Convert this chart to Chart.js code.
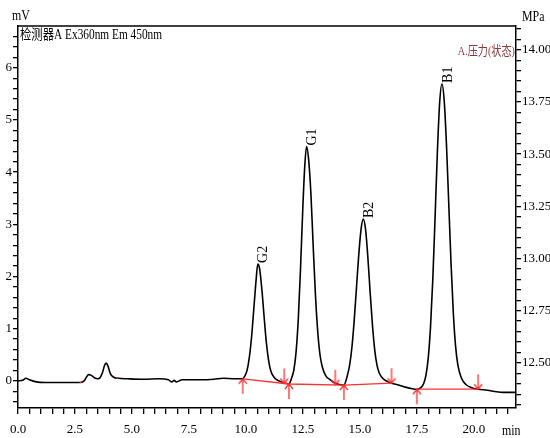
<!DOCTYPE html>
<html lang="zh">
<head>
  <meta charset="UTF-8">
  <title>检测器A 色谱图</title>
  <script src="https://cdn.jsdelivr.net/npm/chart.js"></script>
  <style>
    body { margin: 0; background: #fff; }
    canvas { display: block; }
  </style>
</head>
<body>
  <canvas id="chromChart" width="550" height="438"></canvas>

  <script>
    // 色谱数据 (min, mV)
    const traceTime = [0.0, 0.2, 0.35, 0.5, 0.8, 1.2, 1.8, 2.4, 2.75, 2.9, 3.0, 3.1, 3.2, 3.35, 3.5, 3.6, 3.7, 3.8, 3.87, 3.95, 4.05, 4.2, 4.4, 4.8, 5.5, 6.2, 6.6, 6.75, 6.85, 6.95, 7.2, 8.0, 8.6, 9.0, 9.5,
      9.86, 9.95, 10.05, 10.15, 10.25, 10.35, 10.45, 10.52, 10.6, 10.7, 10.8, 10.9, 11.0, 11.1, 11.25, 11.45, 11.7, 11.89,
      12.0, 12.1, 12.2, 12.3, 12.4, 12.5, 12.58, 12.66, 12.75, 12.85, 12.95, 13.05, 13.15, 13.25, 13.35, 13.5, 13.7, 13.9, 14.1, 14.3,
      14.45, 14.55, 14.65, 14.75, 14.85, 14.95, 15.05, 15.15, 15.25, 15.35, 15.45, 15.55, 15.65, 15.75, 15.85, 16.0, 16.2, 16.39, 16.7, 17.0, 17.3, 17.5,
      17.7, 17.8, 17.9, 18.0, 18.1, 18.2, 18.3, 18.4, 18.5, 18.6, 18.7, 18.8, 18.9, 19.0, 19.1, 19.2, 19.3, 19.45, 19.65, 19.9, 20.19, 20.6, 21.0, 21.3, 21.85];
    const traceSignal = [0.00, 0.01, 0.05, 0.02, -0.02, -0.03, -0.03, -0.03, -0.03, 0.0, 0.07, 0.12, 0.11, 0.06, 0.04, 0.06, 0.15, 0.3, 0.34, 0.28, 0.14, 0.07, 0.05, 0.04, 0.03, 0.04, 0.02, -0.02, 0.01, -0.02, 0.02, 0.02, 0.03, 0.05, 0.04,
      0.04, 0.09, 0.2, 0.45, 0.85, 1.4, 1.95, 2.24, 2.15, 1.75, 1.22, 0.72, 0.38, 0.18, 0.06, 0.0, -0.04, -0.06,
      0.05, 0.2, 0.55, 1.2, 2.2, 3.35, 4.1, 4.49, 4.25, 3.6, 2.6, 1.65, 0.95, 0.5, 0.27, 0.1, 0.02, -0.04, -0.07, -0.08,
      0.1, 0.3, 0.64, 1.15, 1.78, 2.41, 2.9, 3.1, 2.9, 2.37, 1.7, 1.08, 0.6, 0.3, 0.15, 0.05, -0.01, -0.045, -0.08, -0.12, -0.15, -0.16,
      -0.12, -0.05, 0.11, 0.44, 1.04, 1.95, 3.14, 4.38, 5.33, 5.69, 5.37, 4.52, 3.39, 2.25, 1.3, 0.66, 0.3, 0.06, -0.07, -0.13, -0.16, -0.18, -0.21, -0.22, -0.22];

    // 积分基线 (null = 断开)
    const baseTime = [2.7, 2.8, 3.5, 4.3, 4.38, 6.0, 9.86, 11.89, 14.3, 16.39, 17.0, 17.5, 20.19];
    const baseSignal = [-0.03, -0.02, null, 0.06, 0.05, null, 0.04, -0.06, -0.08, -0.045, null, -0.16, -0.16];

    // 峰起点 / 峰终点标记
    const startTime = [9.86, 11.89, 14.3, 17.5];
    const startSignal = [0.04, -0.06, -0.08, -0.16];
    const endTime = [11.68, 13.92, 16.39, 20.19];
    const endSignal = [-0.05, -0.075, -0.045, -0.16];

    // 峰名
    const peakNames = ['G2', 'G1', 'B2', 'B1'];
    const peakTimes = [10.52, 12.66, 15.15, 18.6];
    const peakHeights = [2.24, 4.49, 3.1, 5.69];

    // 坐标轴范围
    const timeMin = 0, timeMax = 21.85;
    const mvMin = -0.52, mvMax = 6.8;
    const mpaMin = 12.28375, mpaMax = 14.11375;

    const RED = '#ff3030';
    const FONT = '"Liberation Serif", "Noto Sans CJK SC", serif';

    const toPoints = (xs, ys) => xs.map((x, i) => ({ x: x, y: ys[i] }));

    function makeArrow(up) {
      const c = document.createElement('canvas');
      c.width = 12; c.height = 32;
      const g = c.getContext('2d');
      g.strokeStyle = RED;
      g.lineWidth = 1.3;
      g.beginPath();
      if (up) {
        g.moveTo(6, 16); g.lineTo(6, 31);
        g.moveTo(2, 21); g.lineTo(6, 16); g.lineTo(10, 21);
      } else {
        g.moveTo(6, 1); g.lineTo(6, 16);
        g.moveTo(2, 11); g.lineTo(6, 16); g.lineTo(10, 11);
      }
      g.stroke();
      return c;
    }

    const nearMultiple = (v, s) => Math.abs(v / s - Math.round(v / s)) < 1e-6;

    // 窄体文字
    function narrowText(ctx, text, x, y, sx) {
      ctx.save();
      ctx.translate(x, y);
      ctx.scale(sx, 1);
      ctx.fillText(text, 0, 0);
      ctx.restore();
    }

    const textPlugin = {
      id: 'textPlugin',
      afterDraw(chart) {
        const ctx = chart.ctx;
        const area = chart.chartArea;
        const x = chart.scales.x, y = chart.scales.y;
        ctx.save();
        // 上边框
        ctx.strokeStyle = '#000';
        ctx.lineWidth = 1.5;
        ctx.beginPath();
        ctx.moveTo(area.left, area.top);
        ctx.lineTo(area.right, area.top);
        ctx.stroke();

        ctx.fillStyle = '#000';
        ctx.textBaseline = 'middle';
        ctx.font = '14px ' + FONT;
        ctx.textAlign = 'left';
        narrowText(ctx, 'mV', 12, 16, 0.85);
        narrowText(ctx, 'MPa', 522, 17, 0.85);
        narrowText(ctx, 'min', 502, 431, 0.85);
        narrowText(ctx, '检测器A Ex360nm Em 450nm', area.left + 2, 35, 0.81);

        ctx.fillStyle = '#8b3a3a';
        ctx.textAlign = 'right';
        ctx.font = '13px ' + FONT;
        narrowText(ctx, 'A.压力(状态)', area.right - 1, 52, 0.78);

        // 峰名 (竖排)
        ctx.fillStyle = '#000';
        ctx.font = '14px ' + FONT;
        ctx.textAlign = 'left';
        peakNames.forEach((name, i) => {
          const px = x.getPixelForValue(peakTimes[i]);
          const py = y.getPixelForValue(peakHeights[i]);
          ctx.save();
          ctx.translate(px + 6, py - 1);
          ctx.rotate(-Math.PI / 2);
          ctx.fillText(name, 0, 0);
          ctx.restore();
        });
        ctx.restore();
      }
    };

    const axisFont = { family: FONT, size: 13 };

    new Chart(document.getElementById('chromChart'), {
      type: 'line',
      data: {
        datasets: [
          {
            data: toPoints(startTime, startSignal),
            showLine: false,
            pointStyle: makeArrow(true),
            pointRadius: 3
          },
          {
            data: toPoints(endTime, endSignal),
            showLine: false,
            pointStyle: makeArrow(false),
            pointRadius: 3
          },
          {
            data: toPoints(baseTime, baseSignal),
            borderColor: RED,
            borderWidth: 1.3,
            pointRadius: 0,
            spanGaps: false
          },
          {
            data: toPoints(traceTime, traceSignal),
            borderColor: '#000',
            borderWidth: 1.6,
            pointRadius: 0,
            cubicInterpolationMode: 'monotone'
          }
        ]
      },
      options: {
        responsive: false,
        animation: false,
        events: [],
        layout: { padding: { top: 26, left: 0, right: 0, bottom: 0 } },
        plugins: {
          legend: { display: false },
          tooltip: { enabled: false }
        },
        scales: {
          x: {
            type: 'linear',
            min: timeMin,
            max: timeMax,
            afterFit: s => { s.height = 30; },
            border: { display: true, color: '#000', width: 1.5 },
            grid: { drawOnChartArea: false, drawTicks: true, tickLength: 6, color: '#000', lineWidth: 1.3 },
            ticks: {
              stepSize: 0.5,
              maxTicksLimit: 200,
              autoSkip: false,
              includeBounds: false,
              maxRotation: 0,
              padding: 8,
              color: '#000',
              font: axisFont,
              callback: v => nearMultiple(v, 2.5) ? v.toFixed(1) : ''
            }
          },
          y: {
            type: 'linear',
            position: 'left',
            min: mvMin,
            max: mvMax,
            afterFit: s => { s.width = 18; },
            border: { display: true, color: '#000', width: 1.5 },
            grid: { drawOnChartArea: false, drawTicks: true, tickLength: 5, color: '#000', lineWidth: 1.3 },
            ticks: {
              stepSize: 0.2,
              maxTicksLimit: 200,
              autoSkip: false,
              includeBounds: false,
              padding: 1,
              color: '#000',
              font: axisFont,
              callback: v => nearMultiple(v, 1) ? Math.round(v).toString() : ''
            }
          },
          y2: {
            type: 'linear',
            position: 'right',
            min: mpaMin,
            max: mpaMax,
            afterFit: s => { s.width = 34; },
            border: { display: true, color: '#000', width: 1.5 },
            grid: { drawOnChartArea: false, drawTicks: true, tickLength: 5, color: '#000', lineWidth: 1.3 },
            ticks: {
              stepSize: 0.05,
              maxTicksLimit: 200,
              autoSkip: false,
              includeBounds: false,
              padding: 1,
              color: '#000',
              font: axisFont,
              callback: v => nearMultiple(v, 0.25) ? v.toFixed(2) : ''
            }
          }
        }
      },
      plugins: [textPlugin]
    });
  </script>
</body>
</html>
